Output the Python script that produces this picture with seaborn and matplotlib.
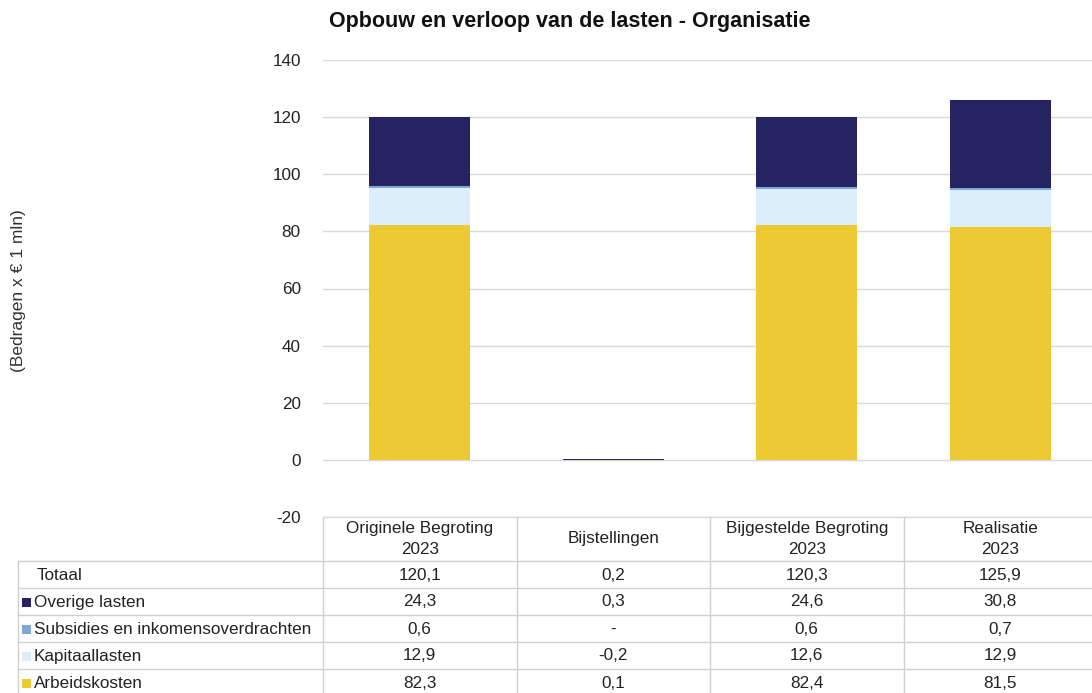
import matplotlib
matplotlib.use("Agg")
import matplotlib.pyplot as plt
import matplotlib.transforms as mtransforms
from matplotlib.lines import Line2D
from matplotlib.patches import Rectangle
import seaborn as sns
import pandas as pd

sns.set_theme(style="white")
plt.rcParams['font.family'] = ['Liberation Sans', 'DejaVu Sans']

categories = ["Originele Begroting\n2023", "Bijstellingen", "Bijgestelde Begroting\n2023", "Realisatie\n2023"]
series_names = ["Arbeidskosten", "Kapitaallasten", "Subsidies en inkomensoverdrachten", "Overige lasten"]
arbeidskosten = [82.3, 0.1, 82.4, 81.5]
kapitaallasten = [12.9, -0.2, 12.6, 12.9]
subsidies = [0.6, 0.0, 0.6, 0.7]
overige = [24.3, 0.3, 24.6, 30.8]
totaal_labels = ["120,1", "0,2", "120,3", "125,9"]
overige_labels = ["24,3", "0,3", "24,6", "30,8"]
subsidies_labels = ["0,6", "-", "0,6", "0,7"]
kapitaal_labels = ["12,9", "-0,2", "12,6", "12,9"]
arbeid_labels = ["82,3", "0,1", "82,4", "81,5"]
colors = ["#EDCA33", "#DDEEFB", "#7FA8D6", "#252362"]

W, H = 1092, 693
fig = plt.figure(figsize=(W / 100, H / 100), dpi=100)
ax = fig.add_axes([323 / W, (H - 517) / H, (1097 - 323) / W, (517 - 60) / H])

layers = [arbeidskosten, kapitaallasten, subsidies, overige]
pos_base = [0.0] * 4
neg_base = [0.0] * 4
for name, vals, col in zip(series_names, layers, colors):
    bottoms = []
    for i, v in enumerate(vals):
        if v >= 0:
            bottoms.append(pos_base[i])
            pos_base[i] += v
        else:
            bottoms.append(neg_base[i])
            neg_base[i] += v
    df = pd.DataFrame({"cat": categories, "val": vals})
    sns.barplot(data=df, x="cat", y="val", order=categories, color=col,
                bottom=bottoms, width=0.52, ax=ax, saturation=1,
                linewidth=0, edgecolor=col, zorder=3)

ax.set_ylim(-20, 140)
ax.set_xlim(-0.5, 3.5)
ax.set_yticks(range(-20, 141, 20))
ax.set_yticklabels([str(v) for v in range(-20, 141, 20)], fontsize=12.3, color="#222222")
ax.tick_params(axis="y", length=0, pad=16)
ax.set_xticks([])
ax.set_xlabel("")
ax.set_ylabel("")
ax.grid(axis="y", color="#D9D9D9", linewidth=1, zorder=0)
ax.axhline(-20, color="#D9D9D9", linewidth=1, zorder=0, clip_on=False)
for s in ax.spines.values():
    s.set_visible(False)

fig.text(570 / W, 1 - 22 / H, "Opbouw en verloop van de lasten - Organisatie",
         ha="center", va="center", fontsize=15.5, fontweight="bold", color="#111111")
fig.text(19 / W, 1 - 291 / H, "(Bedragen x € 1 mln)", rotation=90,
         ha="center", va="center", fontsize=12.5, color="#333333")

# table
blend = mtransforms.blended_transform_factory(ax.transData, fig.transFigure)
def fy(y):
    return 1 - y / H

fs = 12.3
line_col = "#D0D0D0"
for i, c in enumerate(categories):
    fig.text(i, fy(539), c, transform=blend, ha="center", va="center",
             fontsize=fs, color="#222222", linespacing=1.45)
fig.add_artist(Line2D([323 / W, 323 / W], [fy(517), fy(693)], color=line_col, lw=1))
for b in [0.5, 1.5, 2.5, 3.5]:
    fig.add_artist(Line2D([b, b], [fy(517), fy(693)], color=line_col, lw=1, transform=blend))
fig.add_artist(Line2D([18 / W, 18 / W], [fy(561), fy(693)], color=line_col, lw=1))
for yl in [561, 588, 615, 642, 669]:
    fig.add_artist(Line2D([18 / W, 1.0], [fy(yl), fy(yl)], color=line_col, lw=1))

row_names = ["Totaal"] + series_names[::-1]
row_labels = [totaal_labels, overige_labels, subsidies_labels, kapitaal_labels, arbeid_labels]
row_colors = [None] + colors[::-1]
row_y = [575, 602, 629, 656, 683]
for name, labs, col, yc in zip(row_names, row_labels, row_colors, row_y):
    if col is not None:
        fig.add_artist(Rectangle((22 / W, fy(yc + 4.5)), 9 / W, 9 / H, transform=fig.transFigure,
                                 facecolor=col, edgecolor="none"))
        xl = 34
    else:
        xl = 37
    fig.text(xl / W, fy(yc), name, ha="left", va="center",
             fontsize=fs, color="#222222")
    for i, lab in enumerate(labs):
        fig.text(i, fy(yc), lab, transform=blend, ha="center", va="center",
                 fontsize=fs, color="#222222")

fig.savefig("out.png", dpi=100)
